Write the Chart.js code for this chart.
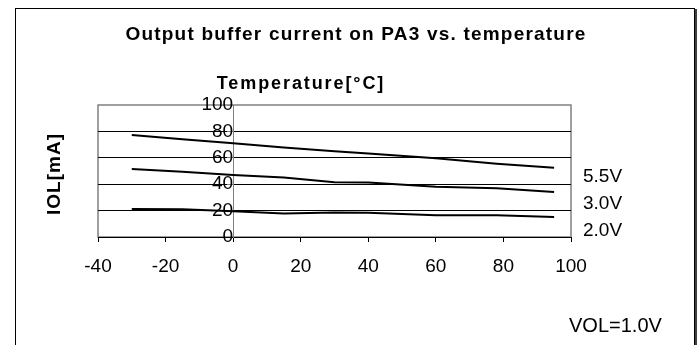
<!DOCTYPE html>
<html>
<head>
<meta charset="utf-8">
<script src="https://cdn.jsdelivr.net/npm/chart.js@4.4.0/dist/chart.umd.min.js"></script>
<style>
  html, body { margin: 0; padding: 0; background: #fff; }
  #chart { display: block; }
</style>
</head>
<body>
<canvas id="chart" width="697" height="345"></canvas>
<script>
// IOL vs. temperature for three supply voltages (VOL = 1.0V)
const temps = [-30, -15, 0, 15, 30, 40, 60, 78, 95];
const iol55 = [77.3, 74, 71, 67.8, 65, 63.2, 59.6, 55.5, 52.5];
const iol30 = [51.5, 49.5, 46.9, 45, 41.5, 41.2, 38, 37, 34];
const iol20 = [21.3, 21, 19.5, 17.8, 18.5, 18.3, 16.5, 16.5, 15.2];
const seriesNames = ["5.5V", "3.0V", "2.0V"];
const xTicks = [-40, -20, 0, 20, 40, 60, 80, 100];
const yTicks = [0, 20, 40, 60, 80, 100];

const FONT = '"Liberation Sans", Arial, sans-serif';
const pts = (ys) => temps.map((t, i) => ({ x: t, y: ys[i] }));
const line = (label, ys) => ({
  label,
  data: pts(ys),
  borderColor: "#000",
  borderWidth: 2,
  pointRadius: 0,
  tension: 0,
  fill: false,
});

// frame, plot box and free-standing texts
const decor = {
  id: "decor",
  beforeDraw(chart) {
    const { ctx, chartArea: a } = chart;
    ctx.save();
    ctx.fillStyle = "#fff";
    ctx.fillRect(0, 0, chart.width, chart.height);
    // chart frame
    ctx.strokeStyle = "#000";
    ctx.lineWidth = 1;
    ctx.strokeRect(15.5, 8.5, 679, 400);
    ctx.strokeStyle = "#404040";
    ctx.lineWidth = 2;
    ctx.beginPath();
    ctx.moveTo(696, 9);
    ctx.lineTo(696, 345);
    ctx.stroke();
    // plot box
    ctx.strokeStyle = "#808080";
    ctx.lineWidth = 1.5;
    ctx.strokeRect(a.left, a.top, a.right - a.left, a.bottom - a.top);
    ctx.restore();
  },
  afterDraw(chart) {
    const { ctx, chartArea: a } = chart;
    ctx.save();
    ctx.fillStyle = "#000";
    ctx.textBaseline = "middle";

    ctx.font = "bold 19px " + FONT;
    ctx.letterSpacing = "1.2px";
    ctx.textAlign = "center";
    ctx.fillText("Output buffer current on PA3 vs. temperature", 356, 35);

    ctx.font = "bold 18px " + FONT;
    ctx.letterSpacing = "1.9px";
    ctx.fillText("Temperature[°C]", 301, 84);

    ctx.save();
    ctx.translate(55, 174);
    ctx.rotate(-Math.PI / 2);
    ctx.font = "bold 19px " + FONT;
    ctx.letterSpacing = "1px";
    ctx.fillText("IOL[mA]", 0, 0);
    ctx.restore();

    ctx.letterSpacing = "0px";
    ctx.font = "19px " + FONT;
    ctx.textAlign = "left";
    seriesNames.forEach((s, i) => ctx.fillText(s, a.right + 12, 177 + i * 27));

    ctx.font = "20px " + FONT;
    ctx.fillText("VOL=1.0V", 569, 326);
    ctx.restore();
  },
};

new Chart(document.getElementById("chart"), {
  type: "line",
  data: {
    datasets: [line(seriesNames[0], iol55), line(seriesNames[1], iol30), line(seriesNames[2], iol20)],
  },
  options: {
    responsive: false,
    animation: false,
    devicePixelRatio: 1,
    layout: { padding: { left: 98, right: 126, top: 105, bottom: 64 } },
    plugins: { legend: { display: false }, tooltip: { enabled: false } },
    scales: {
      x: {
        type: "linear",
        min: xTicks[0],
        max: xTicks[xTicks.length - 1],
        afterBuildTicks: (s) => { s.ticks = xTicks.map((v) => ({ value: v })); },
        afterFit: (s) => { s.height = 44; },
        ticks: { color: "#000", font: { family: FONT, size: 19 }, padding: 13 },
        grid: { drawOnChartArea: false, drawTicks: true, tickLength: 5, color: "#000" },
        border: { color: "#000", width: 1 },
      },
      y: {
        type: "linear",
        position: { x: 0 },
        min: yTicks[0],
        max: yTicks[yTicks.length - 1],
        afterBuildTicks: (s) => { s.ticks = yTicks.map((v) => ({ value: v })); },
        ticks: { color: "#000", font: { family: FONT, size: 19 }, padding: 10 },
        grid: {
          color: (c) => (c.tick && c.tick.value === 100 ? "rgba(0,0,0,0)" : "#000"),
          tickColor: "#808080",
          lineWidth: 1,
          tickLength: 6,
        },
        border: { color: "#808080", width: 1 },
      },
    },
  },
  plugins: [decor],
});
</script>
</body>
</html>
